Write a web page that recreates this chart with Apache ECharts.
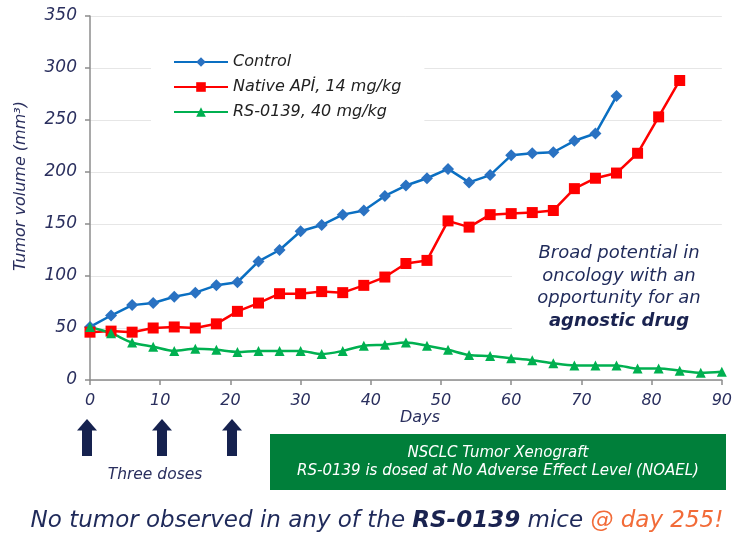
<!DOCTYPE html>
<html>
<head>
<meta charset="utf-8">
<script src="https://cdn.jsdelivr.net/npm/echarts@6/dist/echarts.min.js"></script>
<style>
html,body{margin:0;padding:0;background:#fff;}
#c{width:735px;height:541px;}
</style>
</head>
<body>
<div id="c"></div>
<script>
// ---- data ----
const days = [0,3,6,9,12,15,18,21,24,27,30,33,36,39,42,45,48,51,54,57,60,63,66,69,72,75,78,81,84,87,90];
const seriesNames = ['Control', 'Native APİ, 14 mg/kg', 'RS-0139, 40 mg/kg'];
const controlValues = [51,62,72,74,80,84,91,94,114,125,143,149,159,163,177,187,194,203,190,197,216,218,219,230,237,273];
const nativeValues = [46,47,46,50,51,50,54,66,74,83,83,85,84,91,99,112,115,153,147,159,160,161,163,184,194,199,218,253,288];
const rsValues = [51,45,36,32,28,30,29,27,28,28,28,25,28,33,34,36,33,29,24,23,21,19,16,14,14,14,11,11,9,7,8];
const xTicks = [0,10,20,30,40,50,60,70,80,90];
const yTicks = [0,50,100,150,200,250,300,350];

const FONT = '"DejaVu Sans", sans-serif';
const NAVY = '#2a2f5e';

function pairs(vals){ return vals.map((v,i)=>[days[i], v]); }

const chart = echarts.init(document.getElementById('c'), null, {renderer:'canvas'});

const arrowX = [87, 162, 232];
const arrows = [];
arrowX.forEach(x=>{
  arrows.push({type:'polygon', shape:{points:[[x-10,430.5],[x,419],[x+10,430.5]]}, style:{fill:'#16224f'}, z:10});
  arrows.push({type:'rect', shape:{x:x-5, y:429, width:10, height:27}, style:{fill:'#16224f'}, z:10});
});

chart.setOption({
  animation:false,
  backgroundColor:'#fff',
  grid:{left:90, right:10, top:16, bottom:161, containLabel:false},
  xAxis:{
    type:'value', min:xTicks[0], max:xTicks[xTicks.length-1], interval:10,
    axisLine:{show:true, onZero:false, lineStyle:{color:'#8c8c8c', width:1.5}},
    axisTick:{show:true, length:5, lineStyle:{color:'#8c8c8c', width:1.5}},
    splitLine:{show:false},
    axisLabel:{margin:13, fontFamily:FONT, fontStyle:'italic', fontSize:16, color:NAVY, showMaxLabel:true}
  },
  yAxis:{
    type:'value', min:yTicks[0], max:yTicks[yTicks.length-1], interval:50,
    axisLine:{show:true, lineStyle:{color:'#8c8c8c', width:1.5}},
    axisTick:{show:true, length:5, lineStyle:{color:'#8c8c8c', width:1.5}},
    splitLine:{show:true, lineStyle:{color:'#e6e6e6', width:1}},
    axisLabel:{margin:13, fontFamily:FONT, fontStyle:'italic', fontSize:17, color:NAVY}
  },
  legend:{
    orient:'vertical', left:151, top:42,
    padding:[12,23,14,22],
    backgroundColor:'#fff',
    itemWidth:54, itemHeight:12, itemGap:9,
    textStyle:{fontFamily:FONT, fontStyle:'italic', fontSize:16, color:'#222'},
    data:seriesNames
  },
  graphic:[
    {type:'rect', shape:{x:512, y:236, width:223, height:100}, style:{fill:'#fff'}, z:5},
    {type:'text', x:619, y:253, z:6, style:{text:'Broad potential in', font:'italic 18px '+FONT, fill:'#1f2a5a', textAlign:'center', textVerticalAlign:'middle'}},
    {type:'text', x:619, y:276, z:6, style:{text:'oncology with an', font:'italic 18px '+FONT, fill:'#1f2a5a', textAlign:'center', textVerticalAlign:'middle'}},
    {type:'text', x:619, y:298, z:6, style:{text:'opportunity for an', font:'italic 18px '+FONT, fill:'#1f2a5a', textAlign:'center', textVerticalAlign:'middle'}},
    {type:'text', x:619, y:321, z:6, style:{text:'agnostic drug', font:'italic bold 18px '+FONT, fill:'#1a2350', textAlign:'center', textVerticalAlign:'middle'}},
    {type:'text', x:21, y:186, rotation:Math.PI/2, z:6, style:{text:'Tumor volume (mm³)', font:'italic 16px '+FONT, fill:NAVY, textAlign:'center', textVerticalAlign:'middle'}},
    {type:'text', x:420, y:418, z:6, style:{text:'Days', font:'italic 16px '+FONT, fill:NAVY, textAlign:'center', textVerticalAlign:'middle'}},
    {type:'text', x:155, y:475, z:6, style:{text:'Three doses', font:'italic 15.5px '+FONT, fill:NAVY, textAlign:'center', textVerticalAlign:'middle'}},
    {type:'rect', shape:{x:270, y:434, width:456, height:56}, style:{fill:'#007f3a'}, z:5},
    {type:'text', x:498, y:453, z:6, style:{text:'NSCLC Tumor Xenograft', font:'italic 15px '+FONT, fill:'#fff', textAlign:'center', textVerticalAlign:'middle'}},
    {type:'text', x:498, y:471, z:6, style:{text:'RS-0139 is dosed at No Adverse Effect Level (NOAEL)', font:'italic 15px '+FONT, fill:'#fff', textAlign:'center', textVerticalAlign:'middle'}},
    {type:'text', x:377, y:521, z:6, style:{
      text:'{a|No tumor observed in any of the }{b|RS-0139}{a| mice }{c|@ day 255!}',
      textAlign:'center', textVerticalAlign:'middle',
      rich:{
        a:{font:'italic 23px '+FONT, fill:'#1f2a5a'},
        b:{font:'italic bold 23px '+FONT, fill:'#1a2350'},
        c:{font:'italic 23px '+FONT, fill:'#f26b38'}
      }
    }}
  ].concat(arrows),
  series:[
    {name:seriesNames[0], type:'line', data:pairs(controlValues),
     symbol:'diamond', symbolSize:12, lineStyle:{color:'#0a6fc2', width:2.5},
     itemStyle:{color:'#2a72c2'}, z:3},
    {name:seriesNames[1], type:'line', data:pairs(nativeValues),
     symbol:'rect', symbolSize:11, lineStyle:{color:'#ff0000', width:2.5},
     itemStyle:{color:'#ff0000'}, z:3},
    {name:seriesNames[2], type:'line', data:pairs(rsValues), smooth:0.3,
     symbol:'triangle', symbolSize:10, lineStyle:{color:'#00b050', width:2.5},
     itemStyle:{color:'#00b050'}, z:3}
  ]
});
</script>
</body>
</html>
